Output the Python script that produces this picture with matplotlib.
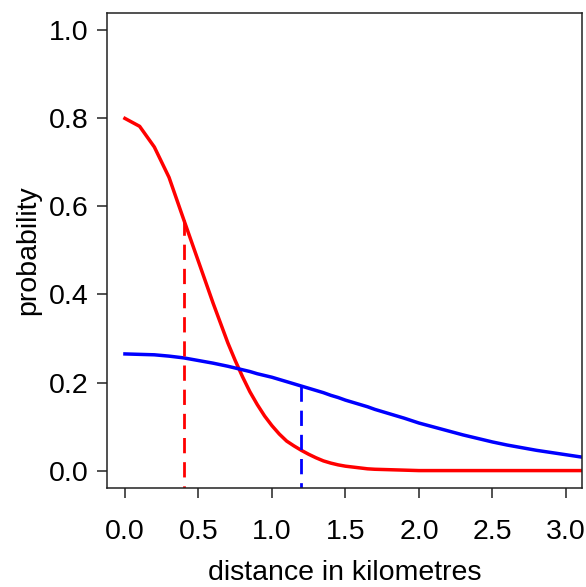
import matplotlib
matplotlib.use("Agg")
import matplotlib.pyplot as plt

plt.rcParams['font.family'] = ['Liberation Sans', 'DejaVu Sans']

# distance grid (km)
distance = [0.0, 0.1, 0.2, 0.3, 0.4, 0.5, 0.6, 0.7, 0.75, 0.8, 0.85, 0.9, 0.95,
            1.0, 1.05, 1.1, 1.15, 1.2, 1.25, 1.3, 1.35, 1.4, 1.45, 1.5, 1.55,
            1.6, 1.65, 1.7, 1.8, 1.9,
            2.0, 2.1, 2.2, 2.3, 2.4, 2.5, 2.6, 2.7, 2.8, 2.9,
            3.0, 3.1, 3.2]

# red curve (steep decline)
red_prob = [0.800, 0.782, 0.735, 0.666, 0.570, 0.475, 0.380, 0.290, 0.250, 0.213, 0.179, 0.150, 0.124,
            0.102, 0.083, 0.067, 0.056, 0.046, 0.037, 0.029, 0.022, 0.017, 0.013, 0.010, 0.008,
            0.006, 0.004, 0.003, 0.002, 0.001,
            0.000, 0.000, 0.000, 0.000, 0.000, 0.000, 0.000, 0.000, 0.000, 0.000,
            0.000, 0.000, 0.000]

# blue curve (gentle decline)
blue_prob = [0.265, 0.264, 0.263, 0.260, 0.256, 0.250, 0.244, 0.237, 0.233, 0.229, 0.225, 0.220, 0.216,
             0.212, 0.207, 0.202, 0.197, 0.192, 0.187, 0.182, 0.177, 0.171, 0.166, 0.160, 0.155,
             0.150, 0.145, 0.139, 0.129, 0.119,
             0.108, 0.099, 0.090, 0.081, 0.073, 0.065, 0.058, 0.052, 0.046, 0.041,
             0.036, 0.031, 0.027]

# dashed reference markers
red_mark_x, red_mark_y = 0.4, 0.570
blue_mark_x, blue_mark_y = 1.2, 0.192

xticks = [0.0, 0.5, 1.0, 1.5, 2.0, 2.5, 3.0]
xticklabels = ["0.0", "0.5", "1.0", "1.5", "2.0", "2.5", "3.0"]
yticks = [0.0, 0.2, 0.4, 0.6, 0.8, 1.0]
yticklabels = ["0.0", "0.2", "0.4", "0.6", "0.8", "1.0"]

fig = plt.figure(figsize=(5.86, 5.87), dpi=100)
ax = fig.add_axes([0.1826, 0.1687, 0.9932 - 0.1826, 0.9779 - 0.1687])

ax.plot(distance, red_prob, color='#ff0000', lw=2.5, solid_joinstyle='round')
ax.plot(distance, blue_prob, color='#0000ff', lw=2.5, solid_joinstyle='round')

ax.plot([red_mark_x, red_mark_x], [red_mark_y, -0.1], color='#ff0000', lw=2.0,
        dashes=(5.5, 3.2))
ax.plot([blue_mark_x, blue_mark_x], [blue_mark_y, -0.1], color='#0000ff', lw=2.0,
        dashes=(5.5, 3.2))

ax.set_xlim(-0.122, 3.109)
ax.set_ylim(-0.0395, 1.0395)
ax.set_xticks(xticks)
ax.set_xticklabels(xticklabels)
ax.set_yticks(yticks)
ax.set_yticklabels(yticklabels)

for s in ax.spines.values():
    s.set_linewidth(1.1)
    s.set_color('#222222')

FS = 20.5
ax.tick_params(axis='both', direction='out', length=7, width=1.1, labelsize=FS,
               color='#222222')
ax.tick_params(axis='y', pad=6)
ax.tick_params(axis='x', pad=15.5)

ax.set_xlabel("distance in kilometres", fontsize=FS, labelpad=10.5)
ax.set_ylabel("probability", fontsize=FS, labelpad=6)

fig.savefig("out.png", dpi=100)
